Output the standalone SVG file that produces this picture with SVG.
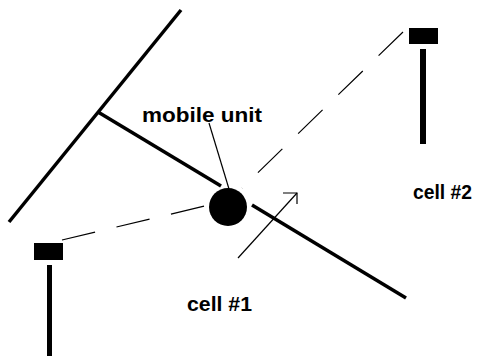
<svg xmlns="http://www.w3.org/2000/svg" width="480" height="356" viewBox="0 0 480 356">
<style>
.thick{stroke:#000;stroke-width:3.5;fill:none;stroke-linecap:butt}
.thin{stroke:#000;stroke-width:1.2;fill:none}
.dash{stroke:#000;stroke-width:1.2;fill:none;stroke-dasharray:34 22}
.lbl{font-family:"Liberation Sans",Arial,sans-serif;font-weight:bold;font-size:20px;fill:#000}
</style>
<rect width="480" height="356" fill="#fff"/>
<g id="connectors">
<line class="dash" x1="62" y1="240" x2="209" y2="205"/>
<line class="dash" x1="403" y1="32" x2="242" y2="188"/>
<line class="thin" x1="209" y1="123" x2="229" y2="189"/>
<line class="thin" x1="238" y1="258" x2="297" y2="193"/>
<polyline class="thin" points="283,193 297,193 297,204"/>
</g>
<g id="boundary">
<line class="thick" x1="181" y1="10" x2="9" y2="222"/>
</g>
<g id="path">
<line class="thick" x1="98" y1="112" x2="221" y2="186"/>
<line class="thick" x1="252" y1="205" x2="406" y2="298"/>
</g>
<g id="mobile-unit">
<circle cx="228" cy="207" r="19" fill="#000"/>
<text class="lbl" x="142" y="122" textLength="120" lengthAdjust="spacingAndGlyphs">mobile unit</text>
</g>
<g id="cell1">
<rect x="34" y="243" width="29" height="17" fill="#000"/>
<rect x="47" y="265" width="5" height="91" fill="#000"/>
<text class="lbl" x="187" y="311" textLength="65" lengthAdjust="spacingAndGlyphs">cell #1</text>
</g>
<g id="cell2">
<rect x="409" y="28" width="29" height="16" fill="#000"/>
<rect x="420" y="49" width="6" height="95" fill="#000"/>
<text class="lbl" x="413" y="199" textLength="59" lengthAdjust="spacingAndGlyphs">cell #2</text>
</g>
</svg>
